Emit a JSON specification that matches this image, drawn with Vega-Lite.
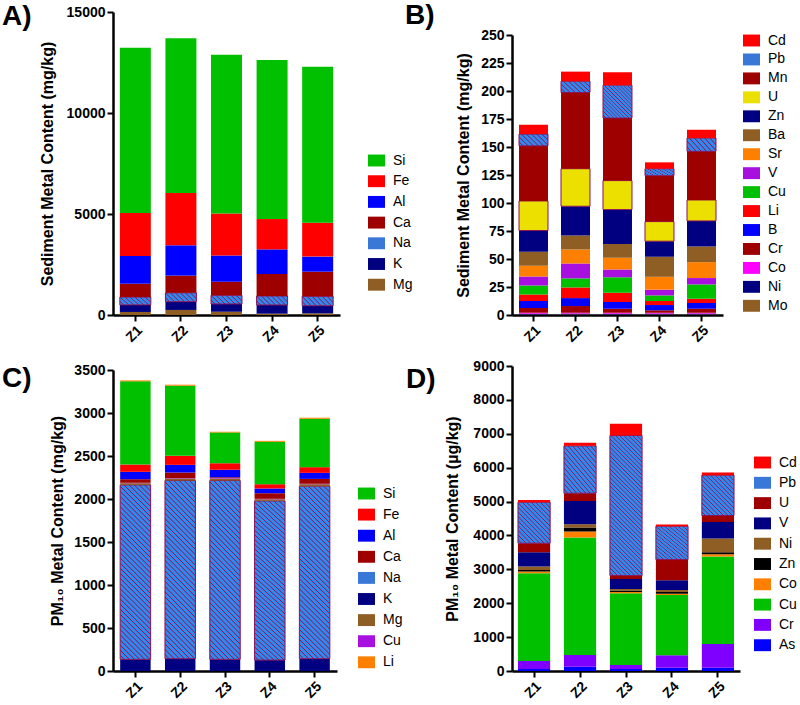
{
"$schema":"https://vega.github.io/schema/vega-lite/v6.json",
"padding":{"left":2,"top":2,"right":0,"bottom":0},
"datasets":{
"A":[
{"zone":"Z1","metal":"Mg","value":150},{"zone":"Z1","metal":"K","value":350},{"zone":"Z1","metal":"Na","value":390},{"zone":"Z1","metal":"Ca","value":660},{"zone":"Z1","metal":"Al","value":1370},{"zone":"Z1","metal":"Fe","value":2130},{"zone":"Z1","metal":"Si","value":8180},
{"zone":"Z2","metal":"Mg","value":250},{"zone":"Z2","metal":"K","value":410},{"zone":"Z2","metal":"Na","value":440},{"zone":"Z2","metal":"Ca","value":850},{"zone":"Z2","metal":"Al","value":1500},{"zone":"Z2","metal":"Fe","value":2590},{"zone":"Z2","metal":"Si","value":7660},
{"zone":"Z3","metal":"Mg","value":165},{"zone":"Z3","metal":"K","value":380},{"zone":"Z3","metal":"Na","value":430},{"zone":"Z3","metal":"Ca","value":675},{"zone":"Z3","metal":"Al","value":1290},{"zone":"Z3","metal":"Fe","value":2090},{"zone":"Z3","metal":"Si","value":7850},
{"zone":"Z4","metal":"Mg","value":65},{"zone":"Z4","metal":"K","value":430},{"zone":"Z4","metal":"Na","value":445},{"zone":"Z4","metal":"Ca","value":1090},{"zone":"Z4","metal":"Al","value":1220},{"zone":"Z4","metal":"Fe","value":1500},{"zone":"Z4","metal":"Si","value":7870},
{"zone":"Z5","metal":"Mg","value":80},{"zone":"Z5","metal":"K","value":380},{"zone":"Z5","metal":"Na","value":465},{"zone":"Z5","metal":"Ca","value":1220},{"zone":"Z5","metal":"Al","value":745},{"zone":"Z5","metal":"Fe","value":1680},{"zone":"Z5","metal":"Si","value":7720}
],
"B":[
{"zone":"Z1","metal":"Mo","value":0.5},{"zone":"Z1","metal":"Ni","value":0.7},{"zone":"Z1","metal":"Co","value":0.8},{"zone":"Z1","metal":"Cr","value":4.2},{"zone":"Z1","metal":"B","value":6.3},{"zone":"Z1","metal":"Li","value":5.9},{"zone":"Z1","metal":"Cu","value":8.0},{"zone":"Z1","metal":"V","value":8.0},{"zone":"Z1","metal":"Sr","value":9.5},{"zone":"Z1","metal":"Ba","value":12.5},{"zone":"Z1","metal":"Zn","value":19.0},{"zone":"Z1","metal":"U","value":26.4},{"zone":"Z1","metal":"Mn","value":49.2},{"zone":"Z1","metal":"Pb","value":10.5},{"zone":"Z1","metal":"Cd","value":8.3},
{"zone":"Z2","metal":"Mo","value":0.5},{"zone":"Z2","metal":"Ni","value":0.7},{"zone":"Z2","metal":"Co","value":0.8},{"zone":"Z2","metal":"Cr","value":6.0},{"zone":"Z2","metal":"B","value":7.1},{"zone":"Z2","metal":"Li","value":9.5},{"zone":"Z2","metal":"Cu","value":8.1},{"zone":"Z2","metal":"V","value":13.3},{"zone":"Z2","metal":"Sr","value":12.5},{"zone":"Z2","metal":"Ba","value":12.5},{"zone":"Z2","metal":"Zn","value":26.1},{"zone":"Z2","metal":"U","value":33.5},{"zone":"Z2","metal":"Mn","value":68.0},{"zone":"Z2","metal":"Pb","value":10.1},{"zone":"Z2","metal":"Cd","value":8.6},
{"zone":"Z3","metal":"Mo","value":0.5},{"zone":"Z3","metal":"Ni","value":0.7},{"zone":"Z3","metal":"Co","value":0.8},{"zone":"Z3","metal":"Cr","value":3.6},{"zone":"Z3","metal":"B","value":6.0},{"zone":"Z3","metal":"Li","value":8.3},{"zone":"Z3","metal":"Cu","value":13.7},{"zone":"Z3","metal":"V","value":7.1},{"zone":"Z3","metal":"Sr","value":10.4},{"zone":"Z3","metal":"Ba","value":12.4},{"zone":"Z3","metal":"Zn","value":30.6},{"zone":"Z3","metal":"U","value":25.9},{"zone":"Z3","metal":"Mn","value":55.8},{"zone":"Z3","metal":"Pb","value":29.4},{"zone":"Z3","metal":"Cd","value":11.5},
{"zone":"Z4","metal":"Mo","value":0.5},{"zone":"Z4","metal":"Ni","value":0.7},{"zone":"Z4","metal":"Co","value":0.8},{"zone":"Z4","metal":"Cr","value":2.2},{"zone":"Z4","metal":"B","value":4.7},{"zone":"Z4","metal":"Li","value":3.6},{"zone":"Z4","metal":"Cu","value":5.0},{"zone":"Z4","metal":"V","value":5.1},{"zone":"Z4","metal":"Sr","value":11.5},{"zone":"Z4","metal":"Ba","value":17.9},{"zone":"Z4","metal":"Zn","value":13.9},{"zone":"Z4","metal":"U","value":17.5},{"zone":"Z4","metal":"Mn","value":41.0},{"zone":"Z4","metal":"Pb","value":6.2},{"zone":"Z4","metal":"Cd","value":5.7},
{"zone":"Z5","metal":"Mo","value":0.5},{"zone":"Z5","metal":"Ni","value":0.7},{"zone":"Z5","metal":"Co","value":0.8},{"zone":"Z5","metal":"Cr","value":3.6},{"zone":"Z5","metal":"B","value":5.1},{"zone":"Z5","metal":"Li","value":3.8},{"zone":"Z5","metal":"Cu","value":12.8},{"zone":"Z5","metal":"V","value":5.7},{"zone":"Z5","metal":"Sr","value":14.2},{"zone":"Z5","metal":"Ba","value":14.0},{"zone":"Z5","metal":"Zn","value":22.8},{"zone":"Z5","metal":"U","value":18.7},{"zone":"Z5","metal":"Mn","value":43.4},{"zone":"Z5","metal":"Pb","value":11.9},{"zone":"Z5","metal":"Cd","value":7.4}
],
"C":[
{"zone":"Z1","metal":"K","value":135},{"zone":"Z1","metal":"Na","value":2029},{"zone":"Z1","metal":"Mg","value":20},{"zone":"Z1","metal":"Cu","value":5},{"zone":"Z1","metal":"Ca","value":41},{"zone":"Z1","metal":"Al","value":86},{"zone":"Z1","metal":"Fe","value":85},{"zone":"Z1","metal":"Si","value":967},{"zone":"Z1","metal":"Li","value":11},
{"zone":"Z2","metal":"K","value":143},{"zone":"Z2","metal":"Na","value":2072},{"zone":"Z2","metal":"Mg","value":23},{"zone":"Z2","metal":"Cu","value":5},{"zone":"Z2","metal":"Ca","value":65},{"zone":"Z2","metal":"Al","value":89},{"zone":"Z2","metal":"Fe","value":105},{"zone":"Z2","metal":"Si","value":815},{"zone":"Z2","metal":"Li","value":12},
{"zone":"Z3","metal":"K","value":135},{"zone":"Z3","metal":"Na","value":2080},{"zone":"Z3","metal":"Mg","value":23},{"zone":"Z3","metal":"Cu","value":5},{"zone":"Z3","metal":"Ca","value":11},{"zone":"Z3","metal":"Al","value":85},{"zone":"Z3","metal":"Fe","value":78},{"zone":"Z3","metal":"Si","value":357},{"zone":"Z3","metal":"Li","value":8},
{"zone":"Z4","metal":"K","value":127},{"zone":"Z4","metal":"Na","value":1851},{"zone":"Z4","metal":"Mg","value":19},{"zone":"Z4","metal":"Cu","value":5},{"zone":"Z4","metal":"Ca","value":65},{"zone":"Z4","metal":"Al","value":55},{"zone":"Z4","metal":"Fe","value":50},{"zone":"Z4","metal":"Si","value":493},{"zone":"Z4","metal":"Li","value":11},
{"zone":"Z5","metal":"K","value":143},{"zone":"Z5","metal":"Na","value":2006},{"zone":"Z5","metal":"Mg","value":23},{"zone":"Z5","metal":"Cu","value":5},{"zone":"Z5","metal":"Ca","value":57},{"zone":"Z5","metal":"Al","value":70},{"zone":"Z5","metal":"Fe","value":66},{"zone":"Z5","metal":"Si","value":563},{"zone":"Z5","metal":"Li","value":12}
],
"D":[
{"zone":"Z1","metal":"As","value":59},{"zone":"Z1","metal":"Cr","value":236},{"zone":"Z1","metal":"Cu","value":2589},{"zone":"Z1","metal":"Co","value":49},{"zone":"Z1","metal":"Zn","value":49},{"zone":"Z1","metal":"Ni","value":99},{"zone":"Z1","metal":"V","value":423},{"zone":"Z1","metal":"U","value":266},{"zone":"Z1","metal":"Pb","value":1210},{"zone":"Z1","metal":"Cd","value":69},
{"zone":"Z2","metal":"As","value":128},{"zone":"Z2","metal":"Cr","value":344},{"zone":"Z2","metal":"Cu","value":3465},{"zone":"Z2","metal":"Co","value":177},{"zone":"Z2","metal":"Zn","value":118},{"zone":"Z2","metal":"Ni","value":99},{"zone":"Z2","metal":"V","value":689},{"zone":"Z2","metal":"U","value":226},{"zone":"Z2","metal":"Pb","value":1398},{"zone":"Z2","metal":"Cd","value":88},
{"zone":"Z3","metal":"As","value":59},{"zone":"Z3","metal":"Cr","value":118},{"zone":"Z3","metal":"Cu","value":2116},{"zone":"Z3","metal":"Co","value":40},{"zone":"Z3","metal":"Zn","value":39},{"zone":"Z3","metal":"Ni","value":49},{"zone":"Z3","metal":"V","value":296},{"zone":"Z3","metal":"U","value":98},{"zone":"Z3","metal":"Pb","value":4134},{"zone":"Z3","metal":"Cd","value":344},
{"zone":"Z4","metal":"As","value":98},{"zone":"Z4","metal":"Cr","value":365},{"zone":"Z4","metal":"Cu","value":1781},{"zone":"Z4","metal":"Co","value":39},{"zone":"Z4","metal":"Zn","value":50},{"zone":"Z4","metal":"Ni","value":59},{"zone":"Z4","metal":"V","value":285},{"zone":"Z4","metal":"U","value":610},{"zone":"Z4","metal":"Pb","value":985},{"zone":"Z4","metal":"Cd","value":49},
{"zone":"Z5","metal":"As","value":98},{"zone":"Z5","metal":"Cr","value":699},{"zone":"Z5","metal":"Cu","value":2579},{"zone":"Z5","metal":"Co","value":69},{"zone":"Z5","metal":"Zn","value":59},{"zone":"Z5","metal":"Ni","value":403},{"zone":"Z5","metal":"V","value":493},{"zone":"Z5","metal":"U","value":187},{"zone":"Z5","metal":"Pb","value":1191},{"zone":"Z5","metal":"Cd","value":78}
]
},
"config":{
"view":{"stroke":null},
"font":"Liberation Sans",
"axis":{"domainColor":"black","domainWidth":2.5,"tickColor":"black","tickWidth":2,"tickSize":6,"labelColor":"black","labelFontSize":14,"labelFontWeight":"bold","labelFont":"Liberation Sans","titleFont":"Liberation Sans","titleFontSize":16,"titleFontWeight":"bold","titleColor":"black","grid":false,"labelPadding":2},
"axisX":{"labelAngle":-45,"title":null},
"legend":{"title":null,"labelFontSize":14,"labelFont":"Liberation Sans","labelColor":"black","symbolType":"M-1,-0.7H1V0.7H-1Z","symbolSize":289,"symbolStrokeWidth":0,"symbolOpacity":1,"orient":"none","padding":0,"labelOffset":8},
"title":{"fontSize":28,"fontWeight":"bold","font":"Liberation Sans","anchor":"start","color":"black","frame":"group","offset":0,"baseline":"alphabetic","align":"left"}
},
"columns":2,
"spacing":{"row":51,"column":172},
"bounds":"flush",
"resolve":{"scale":{"color":"independent"},"legend":{"color":"independent"}},
"concat":[
{"data":{"name":"A"},"width":227,"height":303,
"title":{"text":"A)","dx":-111,"dy":30},
"mark":{"type":"bar","strokeWidth":1},
"encoding":{
"x":{"field":"zone","type":"nominal","scale":{"paddingInner":0.32,"paddingOuter":0.15},"axis":{"title":null}},
"y":{"field":"value","type":"quantitative","scale":{"domain":[0,15000],"nice":false},"axis":{"values":[0,5000,10000,15000],"format":"d","title":"Sediment Metal Content (mg/kg)","titlePadding":11}},
"order":{"field":"zone","type":"nominal"},
"color":{"field":"metal","type":"nominal",
"scale":{"domain":["Si","Fe","Al","Ca","Na","K","Mg"],"range":["#00c000","#ff0000","#0000ff","#9e0000","#3a78d8","#000080","#8f5e24"]},
"legend":{"legendX":255,"legendY":140,"rowPadding":4.7,
"encode":{"symbols":{"update":{
"fill":[{"test":"datum.value==='Na'","value":{"gradient":"linear","x1":0,"y1":1,"x2":1.1386,"y2":0.1963,"stops":[{"offset":0,"color":"#38e"},{"offset":0.075,"color":"#38e"},{"offset":0.1,"color":"#815"},{"offset":0.125,"color":"#38e"},{"offset":0.2,"color":"#38e"},{"offset":0.225,"color":"#815"},{"offset":0.25,"color":"#38e"},{"offset":0.325,"color":"#38e"},{"offset":0.35,"color":"#815"},{"offset":0.375,"color":"#38e"},{"offset":0.45,"color":"#38e"},{"offset":0.475,"color":"#815"},{"offset":0.5,"color":"#38e"},{"offset":0.575,"color":"#38e"},{"offset":0.6,"color":"#815"},{"offset":0.625,"color":"#38e"},{"offset":0.7,"color":"#38e"},{"offset":0.725,"color":"#815"},{"offset":0.75,"color":"#38e"},{"offset":0.825,"color":"#38e"},{"offset":0.85,"color":"#815"},{"offset":0.875,"color":"#38e"},{"offset":0.95,"color":"#38e"},{"offset":0.975,"color":"#815"},{"offset":1,"color":"#38e"}]}},
{"signal":"['#00c000','#ff0000','#0000ff','#9e0000','#3a78d8','#000080','#8f5e24'][indexof(['Si','Fe','Al','Ca','Na','K','Mg'],datum.value)]"}],
"stroke":[{"test":"datum.value==='Na'","value":"#815"},{"value":"transparent"}],
"strokeWidth":{"value":1}}}}},
"condition":{"test":"datum.metal==='Na'","value":{"gradient":"linear","x1":0,"y1":1,"x2":1.19,"y2":0.6545,"stops":[{"offset":0,"color":"#38e"},{"offset":0.075,"color":"#38e"},{"offset":0.1,"color":"#815"},{"offset":0.125,"color":"#38e"},{"offset":0.2,"color":"#38e"},{"offset":0.225,"color":"#815"},{"offset":0.25,"color":"#38e"},{"offset":0.325,"color":"#38e"},{"offset":0.35,"color":"#815"},{"offset":0.375,"color":"#38e"},{"offset":0.45,"color":"#38e"},{"offset":0.475,"color":"#815"},{"offset":0.5,"color":"#38e"},{"offset":0.575,"color":"#38e"},{"offset":0.6,"color":"#815"},{"offset":0.625,"color":"#38e"},{"offset":0.7,"color":"#38e"},{"offset":0.725,"color":"#815"},{"offset":0.75,"color":"#38e"},{"offset":0.825,"color":"#38e"},{"offset":0.85,"color":"#815"},{"offset":0.875,"color":"#38e"},{"offset":0.95,"color":"#38e"},{"offset":0.975,"color":"#815"},{"offset":1,"color":"#38e"}]}}},
"stroke":{"condition":{"test":"datum.metal==='Na'","value":"#815"},"value":null}
}},
{"data":{"name":"B"},"width":211,"height":303,
"title":{"text":"B)","dx":-107,"dy":22},
"mark":{"type":"bar","strokeWidth":1},
"encoding":{
"x":{"field":"zone","type":"nominal","scale":{"paddingInner":0.31,"paddingOuter":0.167},"axis":{"title":null}},
"y":{"field":"value","type":"quantitative","scale":{"domain":[0,250],"nice":false,"range":[303,23]},"axis":{"values":[0,25,50,75,100,125,150,175,200,225,250],"format":"d","title":"Sediment Metal Content (mg/kg)","titlePadding":9}},
"order":{"field":"zone","type":"nominal"},
"color":{"field":"metal","type":"nominal",
"scale":{"domain":["Cd","Pb","Mn","U","Zn","Ba","Sr","V","Cu","Li","B","Cr","Co","Ni","Mo"],"range":["#ff0000","#3a78d8","#9e0000","#ece000","#000080","#8f5e24","#ff8000","#a810e0","#00c000","#ff0000","#0000ff","#9e0000","#ff00ff","#000080","#8f5e24"]},
"legend":{"legendX":231,"legendY":20,"rowPadding":2.95,
"encode":{"symbols":{"update":{
"fill":[{"test":"datum.value==='Pb'","value":{"gradient":"linear","x1":0,"y1":1,"x2":1.1386,"y2":0.1963,"stops":[{"offset":0,"color":"#38e"},{"offset":0.075,"color":"#38e"},{"offset":0.1,"color":"#815"},{"offset":0.125,"color":"#38e"},{"offset":0.2,"color":"#38e"},{"offset":0.225,"color":"#815"},{"offset":0.25,"color":"#38e"},{"offset":0.325,"color":"#38e"},{"offset":0.35,"color":"#815"},{"offset":0.375,"color":"#38e"},{"offset":0.45,"color":"#38e"},{"offset":0.475,"color":"#815"},{"offset":0.5,"color":"#38e"},{"offset":0.575,"color":"#38e"},{"offset":0.6,"color":"#815"},{"offset":0.625,"color":"#38e"},{"offset":0.7,"color":"#38e"},{"offset":0.725,"color":"#815"},{"offset":0.75,"color":"#38e"},{"offset":0.825,"color":"#38e"},{"offset":0.85,"color":"#815"},{"offset":0.875,"color":"#38e"},{"offset":0.95,"color":"#38e"},{"offset":0.975,"color":"#815"},{"offset":1,"color":"#38e"}]}},
{"signal":"['#ff0000','#3a78d8','#9e0000','#ece000','#000080','#8f5e24','#ff8000','#a810e0','#00c000','#ff0000','#0000ff','#9e0000','#ff00ff','#000080','#8f5e24'][indexof(['Cd','Pb','Mn','U','Zn','Ba','Sr','V','Cu','Li','B','Cr','Co','Ni','Mo'],datum.value)]"}],
"stroke":[{"test":"datum.value==='Pb' || datum.value==='U'","value":"#815"},{"value":"transparent"}],
"strokeWidth":{"value":1}}}}},
"condition":[
{"test":"datum.metal==='Pb' && datum.zone==='Z3'","value":{"gradient":"linear","x1":0,"y1":1,"x2":0.938,"y2":-0.0547,"stops":[{"offset":0,"color":"#38e"},{"offset":0.0375,"color":"#38e"},{"offset":0.05,"color":"#815"},{"offset":0.0625,"color":"#38e"},{"offset":0.1,"color":"#38e"},{"offset":0.1125,"color":"#815"},{"offset":0.125,"color":"#38e"},{"offset":0.1625,"color":"#38e"},{"offset":0.175,"color":"#815"},{"offset":0.1875,"color":"#38e"},{"offset":0.225,"color":"#38e"},{"offset":0.2375,"color":"#815"},{"offset":0.25,"color":"#38e"},{"offset":0.2875,"color":"#38e"},{"offset":0.3,"color":"#815"},{"offset":0.3125,"color":"#38e"},{"offset":0.35,"color":"#38e"},{"offset":0.3625,"color":"#815"},{"offset":0.375,"color":"#38e"},{"offset":0.4125,"color":"#38e"},{"offset":0.425,"color":"#815"},{"offset":0.4375,"color":"#38e"},{"offset":0.475,"color":"#38e"},{"offset":0.4875,"color":"#815"},{"offset":0.5,"color":"#38e"},{"offset":0.5375,"color":"#38e"},{"offset":0.55,"color":"#815"},{"offset":0.5625,"color":"#38e"},{"offset":0.6,"color":"#38e"},{"offset":0.6125,"color":"#815"},{"offset":0.625,"color":"#38e"},{"offset":0.6625,"color":"#38e"},{"offset":0.675,"color":"#815"},{"offset":0.6875,"color":"#38e"},{"offset":0.725,"color":"#38e"},{"offset":0.7375,"color":"#815"},{"offset":0.75,"color":"#38e"},{"offset":0.7875,"color":"#38e"},{"offset":0.8,"color":"#815"},{"offset":0.8125,"color":"#38e"},{"offset":0.85,"color":"#38e"},{"offset":0.8625,"color":"#815"},{"offset":0.875,"color":"#38e"},{"offset":0.9125,"color":"#38e"},{"offset":0.925,"color":"#815"},{"offset":0.9375,"color":"#38e"},{"offset":0.975,"color":"#38e"},{"offset":0.9875,"color":"#815"},{"offset":1,"color":"#38e"}]}},
{"test":"datum.metal==='Pb'","value":{"gradient":"linear","x1":0,"y1":1,"x2":1.207,"y2":0.5005,"stops":[{"offset":0,"color":"#38e"},{"offset":0.075,"color":"#38e"},{"offset":0.1,"color":"#815"},{"offset":0.125,"color":"#38e"},{"offset":0.2,"color":"#38e"},{"offset":0.225,"color":"#815"},{"offset":0.25,"color":"#38e"},{"offset":0.325,"color":"#38e"},{"offset":0.35,"color":"#815"},{"offset":0.375,"color":"#38e"},{"offset":0.45,"color":"#38e"},{"offset":0.475,"color":"#815"},{"offset":0.5,"color":"#38e"},{"offset":0.575,"color":"#38e"},{"offset":0.6,"color":"#815"},{"offset":0.625,"color":"#38e"},{"offset":0.7,"color":"#38e"},{"offset":0.725,"color":"#815"},{"offset":0.75,"color":"#38e"},{"offset":0.825,"color":"#38e"},{"offset":0.85,"color":"#815"},{"offset":0.875,"color":"#38e"},{"offset":0.95,"color":"#38e"},{"offset":0.975,"color":"#815"},{"offset":1,"color":"#38e"}]}}
]},
"stroke":{"condition":{"test":"datum.metal==='Pb' || datum.metal==='U'","value":"#815"},"value":null}
}},
{"data":{"name":"C"},"width":224,"height":305,
"title":{"text":"C)","dx":-111,"dy":34},
"mark":{"type":"bar","strokeWidth":1},
"encoding":{
"x":{"field":"zone","type":"nominal","scale":{"paddingInner":0.32,"paddingOuter":0.16},"axis":{"title":null}},
"y":{"field":"value","type":"quantitative","scale":{"domain":[0,3500],"nice":false,"range":[305,4]},"axis":{"values":[0,500,1000,1500,2000,2500,3000,3500],"format":"d","title":"PM₁₀ Metal Content (mg/kg)","titlePadding":8}},
"order":{"field":"zone","type":"nominal"},
"color":{"field":"metal","type":"nominal",
"scale":{"domain":["Si","Fe","Al","Ca","Na","K","Mg","Cu","Li"],"range":["#00c000","#ff0000","#0000ff","#9e0000","#3a78d8","#000080","#8f5e24","#a810e0","#ff8000"]},
"legend":{"legendX":245,"legendY":119,"rowPadding":5.1,
"encode":{"symbols":{"update":{
"fill":[{"test":"datum.value==='Na'","value":{"gradient":"linear","x1":0,"y1":1,"x2":1.1386,"y2":0.1963,"stops":[{"offset":0,"color":"#38e"},{"offset":0.075,"color":"#38e"},{"offset":0.1,"color":"#815"},{"offset":0.125,"color":"#38e"},{"offset":0.2,"color":"#38e"},{"offset":0.225,"color":"#815"},{"offset":0.25,"color":"#38e"},{"offset":0.325,"color":"#38e"},{"offset":0.35,"color":"#815"},{"offset":0.375,"color":"#38e"},{"offset":0.45,"color":"#38e"},{"offset":0.475,"color":"#815"},{"offset":0.5,"color":"#38e"},{"offset":0.575,"color":"#38e"},{"offset":0.6,"color":"#815"},{"offset":0.625,"color":"#38e"},{"offset":0.7,"color":"#38e"},{"offset":0.725,"color":"#815"},{"offset":0.75,"color":"#38e"},{"offset":0.825,"color":"#38e"},{"offset":0.85,"color":"#815"},{"offset":0.875,"color":"#38e"},{"offset":0.95,"color":"#38e"},{"offset":0.975,"color":"#815"},{"offset":1,"color":"#38e"}]}},
{"signal":"['#00c000','#ff0000','#0000ff','#9e0000','#3a78d8','#000080','#8f5e24','#a810e0','#ff8000'][indexof(['Si','Fe','Al','Ca','Na','K','Mg','Cu','Li'],datum.value)]"}],
"stroke":[{"test":"datum.value==='Na'","value":"#815"},{"value":"transparent"}],
"strokeWidth":{"value":1}}}}},
"condition":{"test":"datum.metal==='Na'","value":{"gradient":"linear","x1":0,"y1":1,"x2":0.1986,"y2":-0.1397,"stops":[{"offset":0,"color":"#38e"},{"offset":0.015,"color":"#38e"},{"offset":0.02,"color":"#815"},{"offset":0.025,"color":"#38e"},{"offset":0.04,"color":"#38e"},{"offset":0.045,"color":"#815"},{"offset":0.05,"color":"#38e"},{"offset":0.065,"color":"#38e"},{"offset":0.07,"color":"#815"},{"offset":0.075,"color":"#38e"},{"offset":0.09,"color":"#38e"},{"offset":0.095,"color":"#815"},{"offset":0.1,"color":"#38e"},{"offset":0.115,"color":"#38e"},{"offset":0.12,"color":"#815"},{"offset":0.125,"color":"#38e"},{"offset":0.14,"color":"#38e"},{"offset":0.145,"color":"#815"},{"offset":0.15,"color":"#38e"},{"offset":0.165,"color":"#38e"},{"offset":0.17,"color":"#815"},{"offset":0.175,"color":"#38e"},{"offset":0.19,"color":"#38e"},{"offset":0.195,"color":"#815"},{"offset":0.2,"color":"#38e"},{"offset":0.215,"color":"#38e"},{"offset":0.22,"color":"#815"},{"offset":0.225,"color":"#38e"},{"offset":0.24,"color":"#38e"},{"offset":0.245,"color":"#815"},{"offset":0.25,"color":"#38e"},{"offset":0.265,"color":"#38e"},{"offset":0.27,"color":"#815"},{"offset":0.275,"color":"#38e"},{"offset":0.29,"color":"#38e"},{"offset":0.295,"color":"#815"},{"offset":0.3,"color":"#38e"},{"offset":0.315,"color":"#38e"},{"offset":0.32,"color":"#815"},{"offset":0.325,"color":"#38e"},{"offset":0.34,"color":"#38e"},{"offset":0.345,"color":"#815"},{"offset":0.35,"color":"#38e"},{"offset":0.365,"color":"#38e"},{"offset":0.37,"color":"#815"},{"offset":0.375,"color":"#38e"},{"offset":0.39,"color":"#38e"},{"offset":0.395,"color":"#815"},{"offset":0.4,"color":"#38e"},{"offset":0.415,"color":"#38e"},{"offset":0.42,"color":"#815"},{"offset":0.425,"color":"#38e"},{"offset":0.44,"color":"#38e"},{"offset":0.445,"color":"#815"},{"offset":0.45,"color":"#38e"},{"offset":0.465,"color":"#38e"},{"offset":0.47,"color":"#815"},{"offset":0.475,"color":"#38e"},{"offset":0.49,"color":"#38e"},{"offset":0.495,"color":"#815"},{"offset":0.5,"color":"#38e"},{"offset":0.515,"color":"#38e"},{"offset":0.52,"color":"#815"},{"offset":0.525,"color":"#38e"},{"offset":0.54,"color":"#38e"},{"offset":0.545,"color":"#815"},{"offset":0.55,"color":"#38e"},{"offset":0.565,"color":"#38e"},{"offset":0.57,"color":"#815"},{"offset":0.575,"color":"#38e"},{"offset":0.59,"color":"#38e"},{"offset":0.595,"color":"#815"},{"offset":0.6,"color":"#38e"},{"offset":0.615,"color":"#38e"},{"offset":0.62,"color":"#815"},{"offset":0.625,"color":"#38e"},{"offset":0.64,"color":"#38e"},{"offset":0.645,"color":"#815"},{"offset":0.65,"color":"#38e"},{"offset":0.665,"color":"#38e"},{"offset":0.67,"color":"#815"},{"offset":0.675,"color":"#38e"},{"offset":0.69,"color":"#38e"},{"offset":0.695,"color":"#815"},{"offset":0.7,"color":"#38e"},{"offset":0.715,"color":"#38e"},{"offset":0.72,"color":"#815"},{"offset":0.725,"color":"#38e"},{"offset":0.74,"color":"#38e"},{"offset":0.745,"color":"#815"},{"offset":0.75,"color":"#38e"},{"offset":0.765,"color":"#38e"},{"offset":0.77,"color":"#815"},{"offset":0.775,"color":"#38e"},{"offset":0.79,"color":"#38e"},{"offset":0.795,"color":"#815"},{"offset":0.8,"color":"#38e"},{"offset":0.815,"color":"#38e"},{"offset":0.82,"color":"#815"},{"offset":0.825,"color":"#38e"},{"offset":0.84,"color":"#38e"},{"offset":0.845,"color":"#815"},{"offset":0.85,"color":"#38e"},{"offset":0.865,"color":"#38e"},{"offset":0.87,"color":"#815"},{"offset":0.875,"color":"#38e"},{"offset":0.89,"color":"#38e"},{"offset":0.895,"color":"#815"},{"offset":0.9,"color":"#38e"},{"offset":0.915,"color":"#38e"},{"offset":0.92,"color":"#815"},{"offset":0.925,"color":"#38e"},{"offset":0.94,"color":"#38e"},{"offset":0.945,"color":"#815"},{"offset":0.95,"color":"#38e"},{"offset":0.965,"color":"#38e"},{"offset":0.97,"color":"#815"},{"offset":0.975,"color":"#38e"},{"offset":0.99,"color":"#38e"},{"offset":0.995,"color":"#815"},{"offset":1,"color":"#38e"}]}}},
"stroke":{"condition":{"test":"datum.metal==='Na'","value":"#815"},"value":null}
}},
{"data":{"name":"D"},"width":228,"height":305,
"title":{"text":"D)","dx":-106,"dy":39},
"mark":{"type":"bar","strokeWidth":1},
"encoding":{
"x":{"field":"zone","type":"nominal","scale":{"paddingInner":0.3,"paddingOuter":0.13},"axis":{"title":null}},
"y":{"field":"value","type":"quantitative","scale":{"domain":[0,9000],"nice":false},"axis":{"values":[0,1000,2000,3000,4000,5000,6000,7000,8000,9000],"format":"d","title":"PM₁₀ Metal Content (µg/kg)","titlePadding":12}},
"order":{"field":"zone","type":"nominal"},
"color":{"field":"metal","type":"nominal",
"scale":{"domain":["Cd","Pb","U","V","Ni","Zn","Co","Cu","Cr","As"],"range":["#ff0000","#3a78d8","#9e0000","#000080","#8f5e24","#000000","#ff8000","#00c000","#8000ff","#0000ff"]},
"legend":{"legendX":242,"legendY":88,"rowPadding":4.3,
"encode":{"symbols":{"update":{
"fill":[{"test":"datum.value==='Pb'","value":{"gradient":"linear","x1":0,"y1":1,"x2":1.1386,"y2":0.1963,"stops":[{"offset":0,"color":"#38e"},{"offset":0.075,"color":"#38e"},{"offset":0.1,"color":"#815"},{"offset":0.125,"color":"#38e"},{"offset":0.2,"color":"#38e"},{"offset":0.225,"color":"#815"},{"offset":0.25,"color":"#38e"},{"offset":0.325,"color":"#38e"},{"offset":0.35,"color":"#815"},{"offset":0.375,"color":"#38e"},{"offset":0.45,"color":"#38e"},{"offset":0.475,"color":"#815"},{"offset":0.5,"color":"#38e"},{"offset":0.575,"color":"#38e"},{"offset":0.6,"color":"#815"},{"offset":0.625,"color":"#38e"},{"offset":0.7,"color":"#38e"},{"offset":0.725,"color":"#815"},{"offset":0.75,"color":"#38e"},{"offset":0.825,"color":"#38e"},{"offset":0.85,"color":"#815"},{"offset":0.875,"color":"#38e"},{"offset":0.95,"color":"#38e"},{"offset":0.975,"color":"#815"},{"offset":1,"color":"#38e"}]}},
{"signal":"['#ff0000','#3a78d8','#9e0000','#000080','#8f5e24','#000000','#ff8000','#00c000','#8000ff','#0000ff'][indexof(['Cd','Pb','U','V','Ni','Zn','Co','Cu','Cr','As'],datum.value)]"}],
"stroke":[{"test":"datum.value==='Pb'","value":"#815"},{"value":"transparent"}],
"strokeWidth":{"value":1}}}}},
"condition":[
{"test":"datum.metal==='Pb' && datum.zone==='Z3'","value":{"gradient":"linear","x1":0,"y1":1,"x2":0.2669,"y2":-0.1676,"stops":[{"offset":0,"color":"#38e"},{"offset":0.015,"color":"#38e"},{"offset":0.02,"color":"#815"},{"offset":0.025,"color":"#38e"},{"offset":0.04,"color":"#38e"},{"offset":0.045,"color":"#815"},{"offset":0.05,"color":"#38e"},{"offset":0.065,"color":"#38e"},{"offset":0.07,"color":"#815"},{"offset":0.075,"color":"#38e"},{"offset":0.09,"color":"#38e"},{"offset":0.095,"color":"#815"},{"offset":0.1,"color":"#38e"},{"offset":0.115,"color":"#38e"},{"offset":0.12,"color":"#815"},{"offset":0.125,"color":"#38e"},{"offset":0.14,"color":"#38e"},{"offset":0.145,"color":"#815"},{"offset":0.15,"color":"#38e"},{"offset":0.165,"color":"#38e"},{"offset":0.17,"color":"#815"},{"offset":0.175,"color":"#38e"},{"offset":0.19,"color":"#38e"},{"offset":0.195,"color":"#815"},{"offset":0.2,"color":"#38e"},{"offset":0.215,"color":"#38e"},{"offset":0.22,"color":"#815"},{"offset":0.225,"color":"#38e"},{"offset":0.24,"color":"#38e"},{"offset":0.245,"color":"#815"},{"offset":0.25,"color":"#38e"},{"offset":0.265,"color":"#38e"},{"offset":0.27,"color":"#815"},{"offset":0.275,"color":"#38e"},{"offset":0.29,"color":"#38e"},{"offset":0.295,"color":"#815"},{"offset":0.3,"color":"#38e"},{"offset":0.315,"color":"#38e"},{"offset":0.32,"color":"#815"},{"offset":0.325,"color":"#38e"},{"offset":0.34,"color":"#38e"},{"offset":0.345,"color":"#815"},{"offset":0.35,"color":"#38e"},{"offset":0.365,"color":"#38e"},{"offset":0.37,"color":"#815"},{"offset":0.375,"color":"#38e"},{"offset":0.39,"color":"#38e"},{"offset":0.395,"color":"#815"},{"offset":0.4,"color":"#38e"},{"offset":0.415,"color":"#38e"},{"offset":0.42,"color":"#815"},{"offset":0.425,"color":"#38e"},{"offset":0.44,"color":"#38e"},{"offset":0.445,"color":"#815"},{"offset":0.45,"color":"#38e"},{"offset":0.465,"color":"#38e"},{"offset":0.47,"color":"#815"},{"offset":0.475,"color":"#38e"},{"offset":0.49,"color":"#38e"},{"offset":0.495,"color":"#815"},{"offset":0.5,"color":"#38e"},{"offset":0.515,"color":"#38e"},{"offset":0.52,"color":"#815"},{"offset":0.525,"color":"#38e"},{"offset":0.54,"color":"#38e"},{"offset":0.545,"color":"#815"},{"offset":0.55,"color":"#38e"},{"offset":0.565,"color":"#38e"},{"offset":0.57,"color":"#815"},{"offset":0.575,"color":"#38e"},{"offset":0.59,"color":"#38e"},{"offset":0.595,"color":"#815"},{"offset":0.6,"color":"#38e"},{"offset":0.615,"color":"#38e"},{"offset":0.62,"color":"#815"},{"offset":0.625,"color":"#38e"},{"offset":0.64,"color":"#38e"},{"offset":0.645,"color":"#815"},{"offset":0.65,"color":"#38e"},{"offset":0.665,"color":"#38e"},{"offset":0.67,"color":"#815"},{"offset":0.675,"color":"#38e"},{"offset":0.69,"color":"#38e"},{"offset":0.695,"color":"#815"},{"offset":0.7,"color":"#38e"},{"offset":0.715,"color":"#38e"},{"offset":0.72,"color":"#815"},{"offset":0.725,"color":"#38e"},{"offset":0.74,"color":"#38e"},{"offset":0.745,"color":"#815"},{"offset":0.75,"color":"#38e"},{"offset":0.765,"color":"#38e"},{"offset":0.77,"color":"#815"},{"offset":0.775,"color":"#38e"},{"offset":0.79,"color":"#38e"},{"offset":0.795,"color":"#815"},{"offset":0.8,"color":"#38e"},{"offset":0.815,"color":"#38e"},{"offset":0.82,"color":"#815"},{"offset":0.825,"color":"#38e"},{"offset":0.84,"color":"#38e"},{"offset":0.845,"color":"#815"},{"offset":0.85,"color":"#38e"},{"offset":0.865,"color":"#38e"},{"offset":0.87,"color":"#815"},{"offset":0.875,"color":"#38e"},{"offset":0.89,"color":"#38e"},{"offset":0.895,"color":"#815"},{"offset":0.9,"color":"#38e"},{"offset":0.915,"color":"#38e"},{"offset":0.92,"color":"#815"},{"offset":0.925,"color":"#38e"},{"offset":0.94,"color":"#38e"},{"offset":0.945,"color":"#815"},{"offset":0.95,"color":"#38e"},{"offset":0.965,"color":"#38e"},{"offset":0.97,"color":"#815"},{"offset":0.975,"color":"#38e"},{"offset":0.99,"color":"#38e"},{"offset":0.995,"color":"#815"},{"offset":1,"color":"#38e"}]}},
{"test":"datum.metal==='Pb'","value":{"gradient":"linear","x1":0,"y1":1,"x2":0.878,"y2":-0.0976,"stops":[{"offset":0,"color":"#38e"},{"offset":0.0375,"color":"#38e"},{"offset":0.05,"color":"#815"},{"offset":0.0625,"color":"#38e"},{"offset":0.1,"color":"#38e"},{"offset":0.1125,"color":"#815"},{"offset":0.125,"color":"#38e"},{"offset":0.1625,"color":"#38e"},{"offset":0.175,"color":"#815"},{"offset":0.1875,"color":"#38e"},{"offset":0.225,"color":"#38e"},{"offset":0.2375,"color":"#815"},{"offset":0.25,"color":"#38e"},{"offset":0.2875,"color":"#38e"},{"offset":0.3,"color":"#815"},{"offset":0.3125,"color":"#38e"},{"offset":0.35,"color":"#38e"},{"offset":0.3625,"color":"#815"},{"offset":0.375,"color":"#38e"},{"offset":0.4125,"color":"#38e"},{"offset":0.425,"color":"#815"},{"offset":0.4375,"color":"#38e"},{"offset":0.475,"color":"#38e"},{"offset":0.4875,"color":"#815"},{"offset":0.5,"color":"#38e"},{"offset":0.5375,"color":"#38e"},{"offset":0.55,"color":"#815"},{"offset":0.5625,"color":"#38e"},{"offset":0.6,"color":"#38e"},{"offset":0.6125,"color":"#815"},{"offset":0.625,"color":"#38e"},{"offset":0.6625,"color":"#38e"},{"offset":0.675,"color":"#815"},{"offset":0.6875,"color":"#38e"},{"offset":0.725,"color":"#38e"},{"offset":0.7375,"color":"#815"},{"offset":0.75,"color":"#38e"},{"offset":0.7875,"color":"#38e"},{"offset":0.8,"color":"#815"},{"offset":0.8125,"color":"#38e"},{"offset":0.85,"color":"#38e"},{"offset":0.8625,"color":"#815"},{"offset":0.875,"color":"#38e"},{"offset":0.9125,"color":"#38e"},{"offset":0.925,"color":"#815"},{"offset":0.9375,"color":"#38e"},{"offset":0.975,"color":"#38e"},{"offset":0.9875,"color":"#815"},{"offset":1,"color":"#38e"}]}}
]},
"stroke":{"condition":{"test":"datum.metal==='Pb'","value":"#815"},"value":null}
}}
]
}
